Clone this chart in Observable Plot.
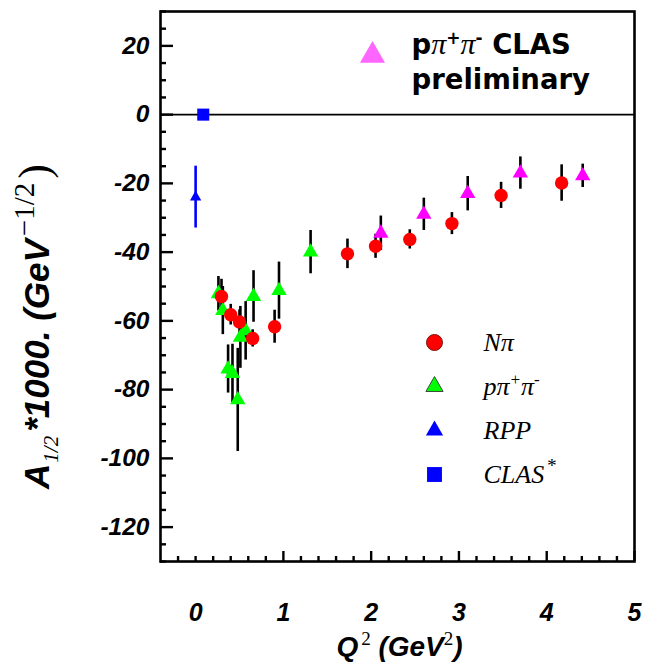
<!DOCTYPE html>
<html><head><meta charset="utf-8">
<script src="https://cdn.jsdelivr.net/npm/d3@7"></script>
<script src="https://cdn.jsdelivr.net/npm/@observablehq/plot@0.6"></script>
<style>html,body{margin:0;padding:0;background:#fff}svg{display:block}</style>
</head><body><div id="chart"></div>
<script>
// ---- data ----
const npiQ2  = [0.295, 0.40, 0.50, 0.65, 0.90, 1.73, 2.05, 2.44, 2.92, 3.48, 4.17];
const npiA   = [-52.9, -58.2, -60.3, -65.1, -61.7, -40.5, -38.3, -36.3, -31.7, -23.5, -19.9];
const npiErr = [5.0, 3.0, 3.5, 2.5, 4.8, 4.3, 3.5, 2.8, 3.2, 3.8, 5.3];

const ppQ2  = [0.26, 0.31, 0.37, 0.42, 0.48, 0.51, 0.57, 0.66, 0.95, 1.31];
const ppA   = [-52.1, -57.0, -74.0, -75.3, -83.0, -64.8, -62.9, -52.9, -51.2, -40.0];
const ppErr = [5.0, 7.0, 7.0, 8.5, 15.0, 9.0, 8.5, 7.5, 8.3, 6.3];

const rppQ2 = [0.0];
const rppA  = [-24.0];
const rppErr = [9.0];

const clasQ2 = [0.087];
const clasA  = [0.0];

const prelimQ2  = [2.11, 2.60, 3.10, 3.70, 4.41];
const prelimA   = [-34.5, -29.0, -23.0, -17.0, -17.8];
const prelimErr = [5.0, 4.7, 5.0, 4.7, 3.4];

const xTickLabels = [0, 1, 2, 3, 4, 5];
const yTickLabels = [-120, -100, -80, -60, -40, -20, 0, 20];
const xDomain = [-0.4, 5];
const yDomain = [-130, 30];

const legendLabels = ["Nπ", "pπ+π-", "RPP", "CLAS*"];
const annotationLines = ["pπ+π- CLAS", "preliminary"];
const xLabel = "Q2 (GeV2)";
const yLabel = "A1/2*1000. (GeV-1/2)";

// ---- tables ----
const table = (xs, ys, es) => xs.map((x, i) => ({x, y: ys[i], e: es ? es[i] : 0}));
const npi = table(npiQ2, npiA, npiErr);
const pp = table(ppQ2, ppA, ppErr);
const rpp = table(rppQ2, rppA, rppErr);
const clas = table(clasQ2, clasA);
const prelim = table(prelimQ2, prelimA, prelimErr);

const W = 648, H = 672;
const mL = 160, mR = 14, mT = 11, mB = 111;
const pxX = (xDomain[1] - xDomain[0]) / (W - mL - mR); // data units per px
const pxY = (yDomain[1] - yDomain[0]) / (H - mT - mB);

const yMinor = d3.range(yDomain[0], yDomain[1] + 0.01, 5).filter(v => !yTickLabels.includes(v));
const xMajor = xTickLabels.filter(v => v !== 0);
const xMinor = d3.range(-0.2, 5.01, 0.2).map(v => +v.toFixed(2)).filter(v => !xMajor.includes(v));

const bars = (data, stroke = "black") => Plot.ruleX(data, {x: "x", y1: d => d.y - d.e, y2: d => d.y + d.e, stroke, strokeWidth: 2.6});

const sans = "Liberation Sans, Arial, Helvetica, sans-serif";
const serif = "Liberation Serif, Times New Roman, serif";
const annoFont = "DejaVu Sans, sans-serif";

const marks = [
  Plot.ruleY([0], {stroke: "black", strokeWidth: 1.6}),
  // inner ticks
  Plot.ruleY(yTickLabels, {x1: xDomain[0], x2: xDomain[0] + 13 * pxX, stroke: "black", strokeWidth: 2.4}),
  Plot.ruleY(yMinor, {x1: xDomain[0], x2: xDomain[0] + 6 * pxX, stroke: "black", strokeWidth: 2.4}),
  Plot.ruleX(xMajor, {y1: yDomain[0], y2: yDomain[0] + 10 * pxY, stroke: "black", strokeWidth: 2.4}),
  Plot.ruleX(xMinor, {y1: yDomain[0], y2: yDomain[0] + 5 * pxY, stroke: "black", strokeWidth: 2.4}),
  // error bars + markers
  bars(pp),
  bars(npi),
  bars(prelim),
  bars(rpp, "#0000ff"),
  Plot.dot(pp, {x: "x", y: "y", symbol: "triangle", r: 5.7, fill: "#00ff00"}),
  Plot.dot(npi, {x: "x", y: "y", symbol: "circle", r: 6.7, fill: "#ff0000"}),
  Plot.dot(prelim, {x: "x", y: "y", symbol: "triangle", r: 5.7, fill: "#ff00ff"}),
  Plot.dot(rpp, {x: "x", y: "y", symbol: "triangle", r: 4.2, fill: "#0000ff"}),
  Plot.dot(clas, {x: "x", y: "y", symbol: "square", r: 6.8, fill: "#0000ff"}),
  Plot.frame({stroke: "black", strokeWidth: 2.6}),
  // tick labels
  Plot.axisY(yTickLabels, {anchor: "left", tickSize: 0, tickPadding: 11, tickFormat: d => String(d), label: null,
    fontSize: 24.5, fontWeight: "bold", fontStyle: "italic", fontFamily: sans, fill: "black"}),
  Plot.axisX(xTickLabels, {anchor: "bottom", tickSize: 0, tickPadding: 42, tickFormat: d => String(d), label: null,
    fontSize: 25, fontWeight: "bold", fontStyle: "italic", fontFamily: sans, fill: "black"}),
  // axis titles
  Plot.text([yLabel], {text: d => d, frameAnchor: "left", rotate: -90, dx: -112, dy: 40, textAnchor: "middle",
    lineAnchor: "bottom", fontSize: 35, fontWeight: "bold", fontStyle: "italic", fontFamily: sans, fill: "black"}),
  Plot.text([xLabel], {text: d => d, frameAnchor: "bottom", dx: 2, dy: 94, textAnchor: "middle", lineAnchor: "bottom",
    fontSize: 28, fontWeight: "bold", fontStyle: "italic", fontFamily: sans, fill: "black"}),
  // annotation
  Plot.dot([annotationLines[0]], {frameAnchor: "top-left", dx: 212, dy: 44, symbol: "triangle", r: 9.3, fill: "#ff66ff"}),
  Plot.text([annotationLines.join("\n")], {text: d => d, frameAnchor: "top-left", dx: 251, dy: 77, textAnchor: "start",
    lineAnchor: "bottom", lineHeight: 1.27, fontSize: 27.5, fontWeight: "bold", fontFamily: annoFont, fill: "black"})
];

// legend
const legendSymbols = [
  {symbol: "circle", r: 8, fill: "#ff0000", stroke: "#7a1010"},
  {symbol: "triangle", r: 6.4, fill: "#00ff00", stroke: "#3a4a3a"},
  {symbol: "triangle", r: 6.4, fill: "#0000ff", stroke: "none"},
  {symbol: "square", r: 8.4, fill: "#0000ff", stroke: "none"}
];
legendLabels.forEach((lab, i) => {
  const s = legendSymbols[i];
  marks.push(Plot.dot([lab], {frameAnchor: "top-left", dx: 274, dy: 331 + i * 44, symbol: s.symbol, r: s.r,
    fill: s.fill, stroke: s.stroke, strokeWidth: 1}));
  marks.push(Plot.text([lab], {text: d => d, frameAnchor: "top-left", dx: 323, dy: 331 + i * 44, textAnchor: "start",
    lineAnchor: "middle", fontSize: 26, fontStyle: "italic", fontFamily: serif, fill: "black"}));
});

const svg = Plot.plot({
  width: W, height: H,
  marginLeft: mL, marginRight: mR, marginTop: mT, marginBottom: mB,
  x: {domain: xDomain, axis: null},
  y: {domain: yDomain, axis: null},
  style: {background: "white", overflow: "visible"},
  marks
});

// ---- rich text (sub/superscripts) ----
const S = {fam: sans, w: "bold", st: "italic"};
const R = {fam: serif, w: "normal", st: "italic"};
const U = {fam: serif, w: "normal", st: "normal"};
const richMap = {
  [yLabel]: [["A", S], ["1/2", {...R, sub: 9, size: 21, dx: 1}], ["*1000. (GeV", {...S, dx: 4}], ["−1/2", {...U, sup: 15, size: 29, dx: 3}], [")", {...U, size: 44, dx: 4}]],
  [xLabel]: [["Q", S], ["2", {...U, sup: 11, size: 19, dx: 3}], [" (GeV", S], ["2", {...U, sup: 11, size: 19}], [")", S]],
  "pπ+π-": [["pπ", R], ["+", {...R, sup: 10, size: 17}], ["π", R], ["-", {...R, sup: 10, size: 17}]],
  "CLAS*": [["CLAS", R], ["*", {...R, sup: 11, size: 19, dx: 2}]],
  "pπ+π- CLAS": [["p", {}], ["π", {...R, size: 30}], ["+", {sup: 10, size: 17}], ["π", {...R, size: 30}], ["-", {sup: 10, size: 17}], [" CLAS", {}]]
};
svg.querySelectorAll("text, tspan").forEach(t => {
  if (t.children.length) return;
  const parts = richMap[t.textContent];
  if (!parts) return;
  while (t.firstChild) t.removeChild(t.firstChild);
  let shift = 0;
  parts.forEach(([str, o]) => {
    const ts = document.createElementNS("http://www.w3.org/2000/svg", "tspan");
    const target = o.sup ? -o.sup : o.sub ? o.sub : 0;
    if (target !== shift) ts.setAttribute("dy", String(target - shift));
    if (o.dx) ts.setAttribute("dx", String(o.dx));
    shift = target;
    if (o.fam) ts.setAttribute("font-family", o.fam);
    if (o.w) ts.setAttribute("font-weight", o.w);
    if (o.st) ts.setAttribute("font-style", o.st);
    if (o.size) ts.setAttribute("font-size", o.size);
    ts.textContent = str;
    t.appendChild(ts);
  });
});

document.getElementById("chart").appendChild(svg);
</script>
</body></html>
